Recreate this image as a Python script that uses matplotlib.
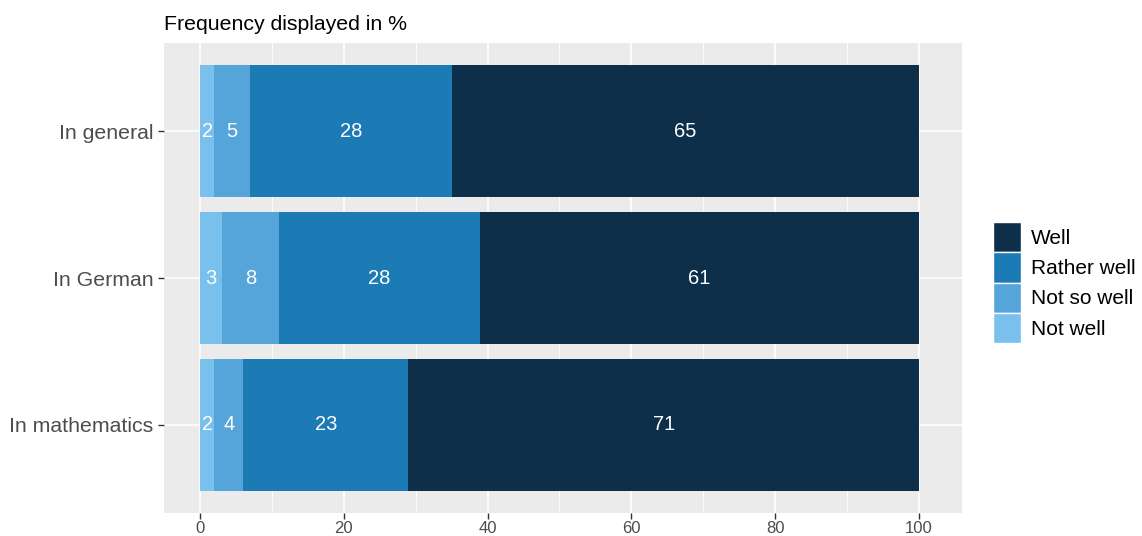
import numpy as np
import matplotlib.pyplot as plt
from matplotlib.patches import Patch

plt.rcParams['font.family'] = ['Liberation Sans', 'DejaVu Sans']

categories = ["In general", "In German", "In mathematics"]
levels = ["Not well", "Not so well", "Rather well", "Well"]
not_well = [2, 3, 2]
not_so_well = [5, 8, 4]
rather_well = [28, 28, 23]
well = [65, 61, 71]
colors = ["#79C0EC", "#55A5DB", "#1C7AB5", "#0D2F4A"]

series = [not_well, not_so_well, rather_well, well]

fig = plt.figure(figsize=(11.42, 5.36), dpi=100)
ax = fig.add_axes([164 / 1142, 1 - 513 / 536, (962 - 164) / 1142, (513 - 43) / 536])
ax.set_facecolor("#EBEBEB")

# categories top to bottom
ypos = np.arange(len(categories))[::-1] + 1
left = np.zeros(len(categories))
for vals, col in zip(series, colors):
    vals = np.array(vals, dtype=float)
    ax.barh(ypos, vals, left=left, height=0.9, color=col, zorder=3)
    for y, l, v in zip(ypos, left, vals):
        ax.text(l + v / 2, y, f"{v:g}", ha="center", va="center",
                color="white", fontsize=14.5, zorder=4)
    left += vals

ax.set_xlim(-5, 106)
ax.set_ylim(0.4, 3.6)
ax.set_xticks(np.arange(0, 101, 20))
ax.set_xticks(np.arange(10, 100, 20), minor=True)
ax.set_yticks(ypos)
ax.set_yticklabels(categories)
ax.grid(True, which="major", color="white", lw=1.2, zorder=1)
ax.grid(True, which="minor", axis="x", color="white", lw=0.6, zorder=1)
for s in ax.spines.values():
    s.set_visible(False)
ax.tick_params(axis="both", which="major", colors="#333333", length=4, width=1,
               labelcolor="#4D4D4D")
ax.tick_params(axis="y", labelsize=15.3)
ax.tick_params(axis="x", labelsize=12, pad=2)
ax.tick_params(which="minor", length=0)

ax.set_title("Frequency displayed in %", loc="left", fontsize=15.3, color="black", pad=9)

handles = [Patch(facecolor=c, edgecolor="white", lw=1) for c in colors[::-1]]
fig.legend(handles, levels[::-1], loc="upper left", bbox_to_anchor=(985 / 1142, 1 - 214 / 536),
           frameon=False, fontsize=15, handlelength=1.35, handleheight=1.85,
           handletextpad=0.45, labelspacing=0.0, borderaxespad=0)

fig.savefig("out.png", dpi=100)
